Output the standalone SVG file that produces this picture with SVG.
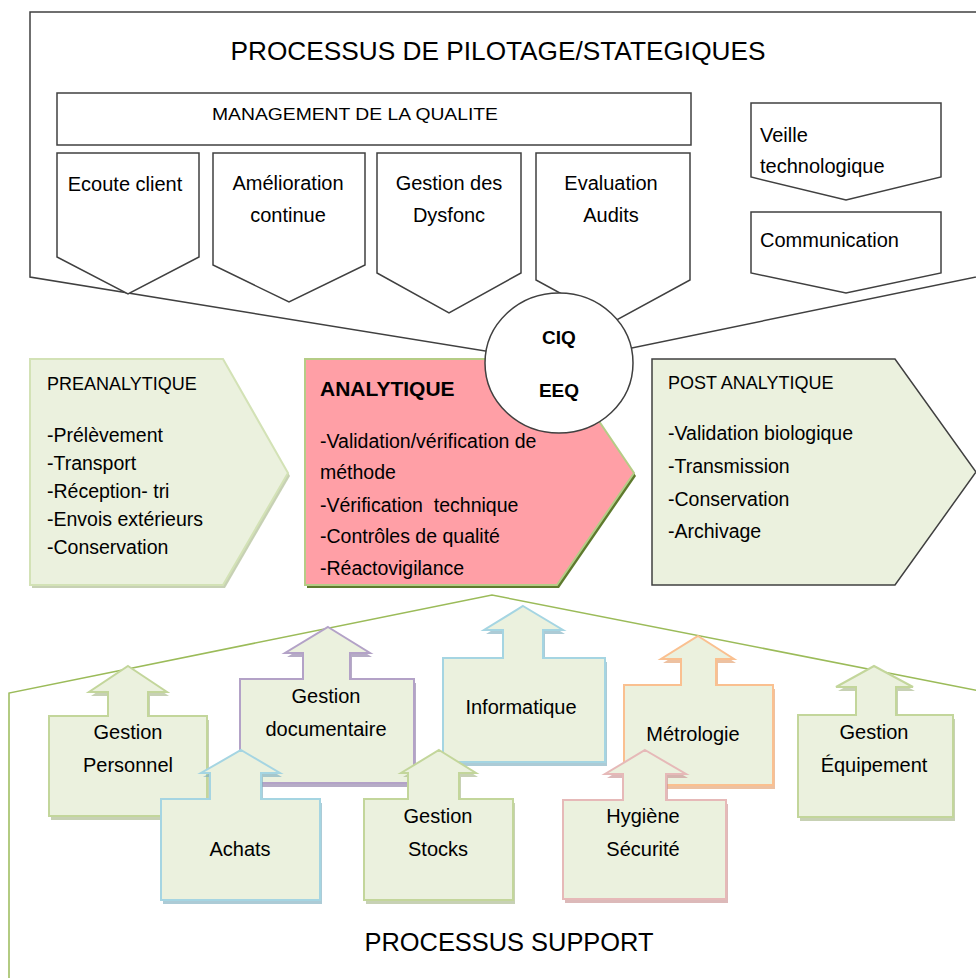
<svg xmlns="http://www.w3.org/2000/svg" width="976" height="978" viewBox="0 0 976 978">
<style>
text{font-family:"Liberation Sans",Arial,sans-serif;fill:#000}
.t{font-size:20px}
.c{text-anchor:middle}
.ol{fill:#fff;stroke:#404040;stroke-width:1.5}
.gf{fill:#EBF1DE}
.sg{fill:none;stroke:#C3D69B;stroke-width:2}
.sb{fill:none;stroke:#A5D5E2;stroke-width:2}
.sp{fill:none;stroke:#B3A2C7;stroke-width:2}
.so{fill:none;stroke:#FAC090;stroke-width:2}
.sr{fill:none;stroke:#E6B9B8;stroke-width:2}
.sh{opacity:0.65}
</style>

<g id="connectors">
<path d="M990,12 L30,12 L30,277 L559,363 L990,274" fill="none" stroke="#404040" stroke-width="1.5"/>
<polyline points="9,978 9,693 492,595 990,693" fill="none" stroke="#9BBB59" stroke-width="1.5"/>
</g>

<g id="pilotage-title">
<text x="498" y="60" font-size="26" text-anchor="middle" textLength="535" lengthAdjust="spacingAndGlyphs">PROCESSUS DE PILOTAGE/STATEGIQUES</text>
</g>

<g id="management">
<rect x="57" y="93" width="634" height="52" class="ol"/>
<text x="355" y="120" font-size="17" text-anchor="middle" textLength="286" lengthAdjust="spacingAndGlyphs">MANAGEMENT DE LA QUALITE</text>
</g>

<g id="ecoute">
<path d="M57,153 H199 V257 L128,294 L57,257 Z" class="ol"/>
<text x="125" y="191" class="t c">Ecoute client</text>
</g>
<g id="amelioration">
<path d="M213,153 H365 V265 L289,302 L213,265 Z" class="ol"/>
<text x="288" y="190" class="t c">Amélioration</text>
<text x="288" y="222" class="t c">continue</text>
</g>
<g id="dysfonc">
<path d="M377,153 H521 V273 L449,313 L377,273 Z" class="ol"/>
<text x="449" y="190" class="t c">Gestion des</text>
<text x="449" y="222" class="t c">Dysfonc</text>
</g>
<g id="evaluation">
<path d="M536,153 H690 V280 L613,322 L536,280 Z" class="ol"/>
<text x="611" y="190" class="t c">Evaluation</text>
<text x="611" y="222" class="t c">Audits</text>
</g>
<g id="veille">
<path d="M751,103 H941 V177 L846,200 L751,177 Z" class="ol"/>
<text x="760" y="142" class="t">Veille</text>
<text x="760" y="173" class="t">technologique</text>
</g>
<g id="communication">
<path d="M751,212 H941 V273 L846,293 L751,273 Z" class="ol"/>
<text x="760" y="247" class="t">Communication</text>
</g>

<g id="preanalytique">
<polygon points="32,362 225,362 290,476 225,588 32,588" fill="#A9B98C" class="sh"/>
<polygon points="30,359 223,359 288,473 223,585 30,585" fill="#EBF1DE" stroke="#D3E2B6" stroke-width="2"/>
<text x="47" y="390" font-size="18">PREANALYTIQUE</text>
<text x="47" y="442" font-size="19.5">-Prélèvement</text>
<text x="47" y="470" font-size="19.5">-Transport</text>
<text x="47" y="498" font-size="19.5">-Réception- tri</text>
<text x="47" y="526" font-size="19.5">-Envois extérieurs</text>
<text x="47" y="554" font-size="19.5">-Conservation</text>
</g>

<g id="analytique">
<polygon points="307,362 559,362 636,476 559,588 307,588" fill="#5E7A2E"/>
<polygon points="305,359 557,359 634,473 557,585 305,585" fill="#FF9FA6" stroke="#B5CC86" stroke-width="2"/>
<text x="320" y="396" font-size="21" font-weight="bold">ANALYTIQUE</text>
<text x="320" y="448" font-size="19.5">-Validation/vérification de</text>
<text x="320" y="479" font-size="19.5">méthode</text>
<text x="320" y="512" font-size="19.5" xml:space="preserve">-Vérification  technique</text>
<text x="320" y="543" font-size="19.5">-Contrôles de qualité</text>
<text x="320" y="575" font-size="19.5">-Réactovigilance</text>
</g>

<g id="ciq-eeq">
<ellipse cx="559" cy="363" rx="74" ry="70" class="ol"/>
<text x="559" y="344" font-size="19" font-weight="bold" text-anchor="middle">CIQ</text>
<text x="559" y="397" font-size="19" font-weight="bold" text-anchor="middle">EEQ</text>
</g>

<g id="postanalytique">
<polygon points="652,359 895,359 976,472 895,585 652,585" fill="#EBF1DE" stroke="#404040" stroke-width="1.5"/>
<text x="668" y="389" font-size="18">POST ANALYTIQUE</text>
<text x="668" y="440" font-size="19.5">-Validation biologique</text>
<text x="668" y="473" font-size="19.5">-Transmission</text>
<text x="668" y="506" font-size="19.5">-Conservation</text>
<text x="668" y="538" font-size="19.5">-Archivage</text>
</g>

<g id="gestion-documentaire">
<path transform="translate(2,4)" d="M328,627 L370,653 L350,653 L350,679 L414,679 L414,783 L240,783 L240,679 L303,679 L303,653 L285,653 Z" fill="#8F7FA8" class="sh"/>
<path d="M328,627 L370,653 L350,653 L350,679 L414,679 L414,783 L240,783 L240,679 L303,679 L303,653 L285,653 Z" class="gf"/>
<path d="M328,627 L370,653 L350,653 L350,679 L414,679 L414,783 L240,783 L240,679 L303,679 L303,653 L285,653 Z" class="sp"/>
<text x="326" y="703" class="t c">Gestion</text>
<text x="326" y="736" class="t c">documentaire</text>
</g>

<g id="informatique">
<path transform="translate(2,4)" d="M523,606 L563,630 L543,630 L543,658 L605,658 L605,762 L443,762 L443,658 L503,658 L503,630 L484,630 Z" fill="#7FAFC0" class="sh"/>
<path d="M523,606 L563,630 L543,630 L543,658 L605,658 L605,762 L443,762 L443,658 L503,658 L503,630 L484,630 Z" class="gf"/>
<path d="M523,606 L563,630 L543,630 L543,658 L605,658 L605,762 L443,762 L443,658 L503,658 L503,630 L484,630 Z" class="sb"/>
<text x="521" y="714" class="t c">Informatique</text>
</g>

<g id="metrologie">
<path transform="translate(2,4)" d="M698,636 L734,659 L716,659 L716,685 L773,685 L773,785 L624,785 L624,685 L681,685 L681,659 L661,659 Z" fill="#E3A06E" class="sh"/>
<path d="M698,636 L734,659 L716,659 L716,685 L773,685 L773,785 L624,785 L624,685 L681,685 L681,659 L661,659 Z" class="gf"/>
<path d="M698,636 L734,659 L716,659 L716,685 L773,685 L773,785 L624,785 L624,685 L681,685 L681,659 L661,659 Z" class="so"/>
<text x="693" y="741" class="t c">Métrologie</text>
</g>

<g id="gestion-personnel">
<path transform="translate(2,4)" d="M128,666 L167,692 L148,692 L148,716 L207,716 L207,816 L49,816 L49,716 L108,716 L108,692 L89,692 Z" fill="#A9B98C" class="sh"/>
<path d="M128,666 L167,692 L148,692 L148,716 L207,716 L207,816 L49,816 L49,716 L108,716 L108,692 L89,692 Z" class="gf"/>
<path d="M128,666 L167,692 L148,692 L148,716 L207,716 L207,816 L49,816 L49,716 L108,716 L108,692 L89,692 Z" class="sg"/>
<text x="128" y="739" class="t c">Gestion</text>
<text x="128" y="772" class="t c">Personnel</text>
</g>

<g id="gestion-equipement">
<path transform="translate(2,4)" d="M874,666 L913,687 L896,687 L896,715 L953,715 L953,817 L798,817 L798,715 L856,715 L856,687 L836,687 Z" fill="#A9B98C" class="sh"/>
<path d="M874,666 L913,687 L896,687 L896,715 L953,715 L953,817 L798,817 L798,715 L856,715 L856,687 L836,687 Z" class="gf"/>
<path d="M874,666 L913,687 L896,687 L896,715 L953,715 L953,817 L798,817 L798,715 L856,715 L856,687 L836,687 Z" class="sg"/>
<text x="874" y="739" class="t c">Gestion</text>
<text x="874" y="772" class="t c">Équipement</text>
</g>

<g id="achats">
<path transform="translate(2,4)" d="M241,750 L280,773 L261,773 L261,799 L320,799 L320,900 L161,900 L161,799 L210,799 L210,773 L201,773 Z" fill="#7FAFC0" class="sh"/>
<path d="M241,750 L280,773 L261,773 L261,799 L320,799 L320,900 L161,900 L161,799 L210,799 L210,773 L201,773 Z" class="gf"/>
<path d="M241,750 L280,773 L261,773 L261,799 L320,799 L320,900 L161,900 L161,799 L210,799 L210,773 L201,773 Z" class="sb"/>
<text x="240" y="856" class="t c">Achats</text>
</g>

<g id="gestion-stocks">
<path transform="translate(2,4)" d="M439,750 L476,773 L459,773 L459,799 L513,799 L513,900 L364,900 L364,799 L408,799 L408,773 L401,773 Z" fill="#A9B98C" class="sh"/>
<path d="M439,750 L476,773 L459,773 L459,799 L513,799 L513,900 L364,900 L364,799 L408,799 L408,773 L401,773 Z" class="gf"/>
<path d="M439,750 L476,773 L459,773 L459,799 L513,799 L513,900 L364,900 L364,799 L408,799 L408,773 L401,773 Z" class="sg"/>
<text x="438" y="823" class="t c">Gestion</text>
<text x="438" y="856" class="t c">Stocks</text>
</g>

<g id="hygiene-securite">
<path transform="translate(2,4)" d="M645,750 L686,774 L666,774 L666,800 L726,800 L726,899 L563,899 L563,800 L623,800 L623,774 L605,774 Z" fill="#C99493" class="sh"/>
<path d="M645,750 L686,774 L666,774 L666,800 L726,800 L726,899 L563,899 L563,800 L623,800 L623,774 L605,774 Z" class="gf"/>
<path d="M645,750 L686,774 L666,774 L666,800 L726,800 L726,899 L563,899 L563,800 L623,800 L623,774 L605,774 Z" class="sr"/>
<text x="643" y="823" class="t c">Hygiène</text>
<text x="643" y="856" class="t c">Sécurité</text>
</g>

<g id="support-title">
<text x="509" y="951" font-size="26" text-anchor="middle" textLength="289" lengthAdjust="spacingAndGlyphs">PROCESSUS SUPPORT</text>
</g>
</svg>
